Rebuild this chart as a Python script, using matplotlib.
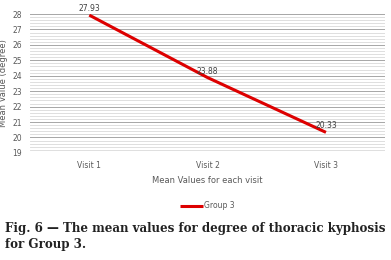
import matplotlib
matplotlib.use("Agg")
import matplotlib.pyplot as plt
from matplotlib.ticker import MultipleLocator

visits = ["Visit 1", "Visit 2", "Visit 3"]
group3 = [27.93, 23.88, 20.33]

fig = plt.figure(figsize=(3.91, 2.6), dpi=100)
ax = fig.add_axes([0.077, 0.412, 0.908, 0.534])

x = range(len(visits))
ax.plot(x, group3, color="#dd0000", lw=2.2, label="Group 3", solid_capstyle="butt")
for xi, v in zip(x, group3):
    ax.annotate(f"{v:.2f}", (xi, v), xytext=(0, 1.5), textcoords="offset points",
                ha="center", va="bottom", fontsize=5.5, color="#404040")

ax.set_xlim(-0.5, 2.5)
ax.set_ylim(19, 28)
ax.set_xticks(list(x))
ax.set_xticklabels(visits)
ax.yaxis.set_major_locator(MultipleLocator(1))
ax.yaxis.set_minor_locator(MultipleLocator(0.2))
ax.grid(which="minor", axis="y", color="#d9d9d9", lw=0.6)
ax.grid(which="major", axis="y", color="#a6a6a6", lw=0.7)
ax.set_axisbelow(True)
for s in ax.spines.values():
    s.set_visible(False)
ax.tick_params(which="both", length=0, labelsize=5.5, labelcolor="#595959")
ax.tick_params(axis="x", pad=6)
ax.tick_params(axis="y", pad=6)
ax.set_ylabel("Mean Value (degree)", fontsize=6, color="#595959", labelpad=3)
ax.set_xlabel("Mean Values for each visit", fontsize=6, color="#595959", labelpad=4)

ax.legend(loc="upper center", bbox_to_anchor=(0.5, -0.30), frameon=False,
          fontsize=5.5, handlelength=3, handletextpad=0.1, labelcolor="#595959")

fig.text(0.013, 0.123, "Fig. 6 \u2014 The mean values for degree of thoracic kyphosis",
         fontsize=8.6, fontweight="bold", family="DejaVu Serif", color="#222222", va="center")
fig.text(0.013, 0.058, "for Group 3.",
         fontsize=8.6, fontweight="bold", family="DejaVu Serif", color="#222222", va="center")

fig.savefig("out.png", dpi=100)
